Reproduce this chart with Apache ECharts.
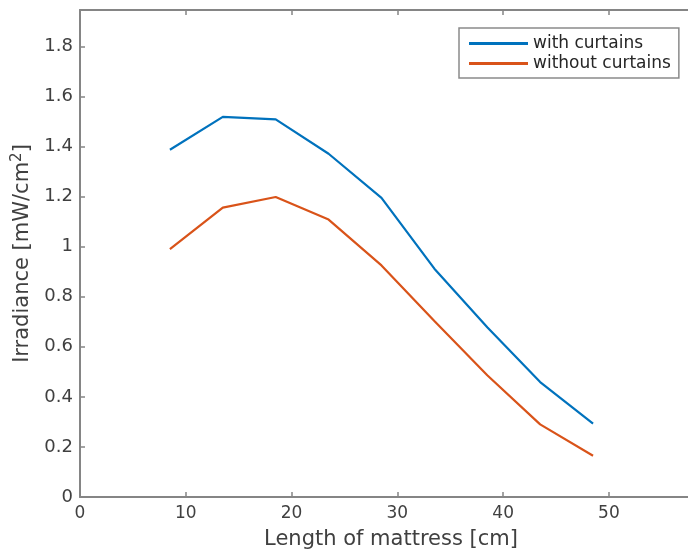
<!DOCTYPE html>
<html><head><meta charset="utf-8">
<script src="https://cdn.jsdelivr.net/npm/echarts@6/dist/echarts.min.js"></script>
<style>html,body{margin:0;padding:0;background:#fff;overflow:hidden}#c{width:688px;height:553px}</style>
</head><body><div id="c"></div>
<script>
const lengths = [8.5, 13.5, 18.5, 23.5, 28.5, 33.5, 38.5, 43.5, 48.5];
const withCurtains = [1.387, 1.518, 1.508, 1.371, 1.195, 0.912, 0.678, 0.459, 0.293];
const withoutCurtains = [0.990, 1.156, 1.198, 1.108, 0.925, 0.703, 0.486, 0.290, 0.165];
const seriesNames = ['with curtains', 'without curtains'];
const xTitle = 'Length of mattress [cm]';

const font = 'DejaVu Sans';
const axisCol = '#858585';
const txtCol = '#404040';
const chart = echarts.init(document.getElementById('c'), null, {renderer: 'canvas'});
const pair = (xs, ys) => xs.map((x, i) => [x, ys[i]]);
chart.setOption({
  animation: false,
  backgroundColor: '#fff',
  grid: {left: 80, right: -14, top: 10, bottom: 56, containLabel: false, outerBoundsMode: 'none'},
  legend: {
    orient: 'vertical', left: 459, top: 28,
    itemWidth: 59, itemHeight: 3, itemGap: 3, icon: 'rect',
    padding: [7, 8, 6, 10],
    borderColor: '#8a8a8a', borderWidth: 1.5, backgroundColor: '#fff',
    textStyle: {fontFamily: font, fontSize: 17, color: '#262626'},
    data: seriesNames
  },
  xAxis: [{
    type: 'value', min: 0, max: 58.8, interval: 10,
    name: xTitle, nameLocation: 'middle', nameGap: 32,
    nameTextStyle: {fontFamily: font, fontSize: 21, color: txtCol},
    axisLine: {show: true, onZero: false, lineStyle: {color: axisCol, width: 2}},
    axisTick: {show: true, inside: true, length: 5, lineStyle: {color: axisCol, width: 1.5}},
    axisLabel: {fontFamily: font, fontSize: 17, color: txtCol, margin: 8,
      formatter: v => (v % 10 === 0 ? String(v) : '')},
    splitLine: {show: false}
  }, {
    type: 'value', position: 'top', min: 0, max: 58.8, interval: 10,
    axisLine: {show: true, onZero: false, lineStyle: {color: axisCol, width: 2}},
    axisTick: {show: true, inside: true, length: 5, lineStyle: {color: axisCol, width: 1.5}},
    axisLabel: {show: false}, splitLine: {show: false}
  }],
  yAxis: {
    type: 'value', min: 0, max: 1.945, interval: 0.2,
    name: 'Irradiance [mW/cm{sup|2}]', nameLocation: 'middle', nameGap: 42,
    nameTextStyle: {fontFamily: font, fontSize: 21, color: txtCol,
      rich: {sup: {fontFamily: font, fontSize: 15, color: txtCol, padding: [0, 0, 11, 0]}}},
    axisLine: {show: true, onZero: false, lineStyle: {color: axisCol, width: 2}},
    axisTick: {show: true, inside: true, length: 5, lineStyle: {color: axisCol, width: 1.5}},
    axisLabel: {fontFamily: font, fontSize: 18, color: txtCol, margin: 7,
      formatter: v => (v > 1.9 ? '' : String(Math.round(v * 10) / 10))},
    splitLine: {show: false}
  },
  series: [
    {name: seriesNames[0], type: 'line', data: pair(lengths, withCurtains), showSymbol: false,
     symbol: 'none', lineStyle: {color: '#0072BD', width: 2.2}, itemStyle: {color: '#0072BD'}},
    {name: seriesNames[1], type: 'line', data: pair(lengths, withoutCurtains), showSymbol: false,
     symbol: 'none', lineStyle: {color: '#D95319', width: 2.2}, itemStyle: {color: '#D95319'}}
  ]
});
</script></body></html>
